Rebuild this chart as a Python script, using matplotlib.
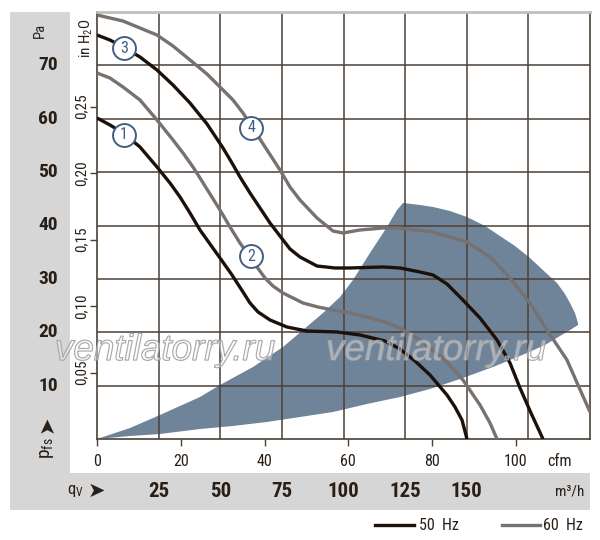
import matplotlib
matplotlib.use('Agg')
import matplotlib.pyplot as plt
from matplotlib.patches import Rectangle, Polygon
from matplotlib.lines import Line2D
from matplotlib import font_manager
import matplotlib.patheffects as pe

# ---------------- data (flow in m3/h, pressure in Pa) ----------------
cfm_ticks = [0, 20, 40, 60, 80, 100]
m3h_labels = [25, 50, 75, 100, 125, 150]
m3h_grid = [25, 50, 75, 100, 125, 150, 175]
pa_labels = [10, 20, 30, 40, 50, 60, 70]
inh2o_ticks = [0.05, 0.10, 0.15, 0.20, 0.25]
inh2o_labels = ['0,05', '0,10', '0,15', '0,20', '0,25']

# curve 1 (50 Hz)
curve1_q = [0, 5.27, 10.55, 17.44, 24.34, 29.61, 33.67, 37.73, 41.78, 45.84, 49.90, 54.77, 59.23, 62.07,
            65.32, 70.18, 77.08, 85.19, 97.36, 106.69, 116.84, 122.92, 129.01, 135.09, 141.99, 145.23, 148.07, 150.10]
curve1_p = [60.14, 58.83, 57.33, 54.71, 50.96, 47.96, 45.34, 42.34, 39.16, 36.53, 33.91, 30.73, 27.54, 25.48,
            23.80, 22.30, 20.98, 20.23, 20.05, 19.49, 18.36, 16.86, 14.61, 11.99, 8.24, 6.00, 3.56, 0]

# curve 2 (60 Hz)
curve2_q = [0, 5.27, 10.55, 17.44, 24.34, 30.83, 34.89, 38.95, 41.78, 45.84, 49.90, 53.96, 58.01, 62.07, 64.91,
            68.15, 71.40, 75.46, 79.51, 83.57, 89.65, 95.74, 102.64, 109.53, 116.84, 122.92, 131.03, 135.09,
            141.99, 148.48, 155.38, 159.43, 162.27]
curve2_p = [68.57, 67.63, 65.95, 63.51, 59.77, 56.02, 53.58, 50.96, 48.90, 45.90, 42.90, 39.72, 36.72, 34.10, 32.23,
            30.16, 28.66, 27.35, 26.42, 25.48, 24.73, 24.17, 23.61, 22.86, 21.92, 20.80, 18.55, 17.05,
            14.43, 11.05, 6.37, 3.00, 0]

# curve 3 (50 Hz)
curve3_q = [0, 5.27, 10.55, 17.44, 24.34, 30.83, 37.73, 44.62, 51.12, 54.77, 58.01, 62.07, 66.13, 70.18, 74.24,
            78.29, 82.35, 89.25, 96.55, 102.64, 116.02, 122.92, 131.03, 136.31, 141.99, 147.26, 155.38, 162.27,
            167.55, 171.60, 176.06, 180.93]
curve3_p = [75.69, 74.75, 73.44, 71.57, 69.13, 66.32, 62.95, 59.02, 54.52, 51.71, 49.09, 46.09, 43.28, 40.47, 38.03,
            35.60, 34.10, 32.41, 32.04, 32.04, 32.23, 32.04, 31.29, 30.73, 29.04, 26.60, 22.67, 18.55,
            14.24, 9.56, 4.87, 0]

# curve 4 (60 Hz)
curve4_q = [0, 10.55, 24.34, 30.83, 37.73, 44.62, 51.12, 55.17, 59.23, 68.97, 74.24, 78.29, 82.35, 89.25, 95.74,
            99.80, 106.69, 116.02, 122.92, 136.31, 150.10, 159.43, 167.55, 175.66, 182.55, 190.67, 195.13, 200]
curve4_p = [79.44, 78.31, 75.69, 73.63, 71.01, 68.38, 65.39, 63.51, 61.08, 54.15, 50.40, 47.21, 44.78, 41.41, 38.97,
            38.60, 39.16, 39.53, 39.53, 38.78, 36.91, 34.10, 30.16, 25.48, 20.42, 14.80, 10.12, 5.06]

# operating envelope (shaded area)
envelope_q = [0, 13.39, 25.56, 41.78, 49.90, 63.29, 75.46, 83.57, 91.68, 98.58, 103.85, 110.75, 117.65, 121.70, 124.14,
              131.03, 136.31, 143.20, 150.10, 157.40, 163.49, 169.57, 175.66, 181.74, 186.61, 189.86, 191.89, 193.91, 195.13,
              195.13, 191.89, 187.83, 181.74, 174.44, 160.65, 147.26, 135.09, 122.92, 109.53, 95.74, 82.35, 68.97,
              55.17, 41.78, 25.56, 13.39]
envelope_p = [0, 2.06, 4.50, 7.87, 10.12, 13.49, 17.24, 20.42, 23.61, 26.60, 29.79, 34.85, 39.72, 42.90, 44.22,
              43.84, 43.47, 42.72, 41.59, 39.91, 38.03, 36.16, 33.91, 31.29, 29.23, 27.17, 25.48, 23.61, 21.73,
              21.36, 20.42, 19.30, 17.61, 16.11, 13.49, 11.24, 9.37, 7.87, 6.56, 5.06, 4.12, 3.19,
              2.44, 1.87, 0.94, 0.56]

curve_ids = ['1', '2', '3', '4']
label_q = [10.9, 62.5, 10.9, 62.5]
label_p = [57.0, 34.2, 73.2, 58.3]

CFM_TO_M3H = 1.699
INH2O_TO_PA = 249.089

# ---------------- fonts ----------------
names = {f.name for f in font_manager.fontManager.ttflist}
NARROW = next((n for n in ['Liberation Sans Narrow', 'Roboto Condensed', 'Liberation Sans'] if n in names), 'DejaVu Sans')
FAM = [NARROW, 'DejaVu Sans']
plt.rcParams['font.family'] = FAM
plt.rcParams['mathtext.fontset'] = 'custom'
plt.rcParams['mathtext.rm'] = NARROW
plt.rcParams['mathtext.it'] = NARROW
plt.rcParams['mathtext.bf'] = NARROW + ':bold'

TXT = '#2a1f16'
GRID = '#4a4036'
BLACK = '#1c1008'
GRAY = '#777271'
FILL = '#6f8399'
CIRC = '#3f5f80'

W, H = 600, 540
fig = plt.figure(figsize=(6, 5.4), dpi=100)
fig.patch.set_facecolor('white')

def fx(px):
    return px / W

def fy(py):
    return 1 - py / H

fig.patches.append(Rectangle((fx(10), fy(510)), fx(590) - fx(10), fy(12) - fy(510),
                             transform=fig.transFigure, facecolor='#d6d6d6', edgecolor='none', zorder=-20))
fig.patches.append(Rectangle((fx(70), fy(473)), fx(590) - fx(70), fy(12) - fy(473),
                             transform=fig.transFigure, facecolor='white', edgecolor='none', zorder=-19))

ax = fig.add_axes([fx(97), fy(439), fx(590) - fx(97), fy(12) - fy(439)])
ax.set_facecolor('white')
ax.set_xlim(0, 200)
ax.set_ylim(0, 80)

# grid on minor ticks
ax.set_xticks(m3h_grid, minor=True)
ax.set_yticks(pa_labels, minor=True)
ax.grid(which='minor', color=GRID, lw=1.1)
ax.tick_params(which='minor', length=0)

# major ticks: cfm and inH2O
ax.set_xticks([c * CFM_TO_M3H for c in cfm_ticks])
ax.set_xticklabels([str(c) for c in cfm_ticks])
ax.set_yticks([v * INH2O_TO_PA for v in inh2o_ticks])
ax.set_yticklabels(inh2o_labels, rotation=90, va='center')
ax.tick_params(axis='x', direction='out', length=5, width=1, color=GRID, pad=6, labelsize=11.5, labelcolor=TXT)
ax.tick_params(axis='y', direction='out', length=5, width=1, color=GRID, pad=1, labelsize=11, labelcolor=TXT)

for s in ['left', 'bottom', 'right']:
    ax.spines[s].set_color(GRID)
    ax.spines[s].set_linewidth(1.2)
ax.spines['top'].set_color('#c3bfb8')
ax.spines['top'].set_linewidth(2)

# envelope
ax.add_patch(Polygon(list(zip(envelope_q, envelope_p)), closed=True, facecolor=FILL, edgecolor='none', zorder=1))

# curves
kw = dict(lw=2.4, zorder=3, solid_joinstyle='round', solid_capstyle='butt')
ax.plot(curve1_q, curve1_p, color=BLACK, **kw)
ax.plot(curve3_q, curve3_p, color=BLACK, **kw)
ax.plot(curve2_q, curve2_p, color=GRAY, **kw)
ax.plot(curve4_q, curve4_p, color=GRAY, **kw)

# curve labels
for cid, q, p in zip(curve_ids, label_q, label_p):
    ax.plot([q], [p], marker='o', markersize=16.5, mfc='white', mec=CIRC, mew=1.4, zorder=4, clip_on=False)
    ax.text(q, p, cid, color=CIRC, fontsize=11.5, ha='center', va='center', zorder=5)

# Pa and m3/h labels
ytr = ax.get_yaxis_transform()
xtr = ax.get_xaxis_transform()
for p in pa_labels:
    ax.text(-0.099, p, str(p), transform=ytr, ha='center', va='center', fontsize=14,
            fontweight='bold', color=TXT)
for q in m3h_labels:
    ax.text(q, -0.122, str(q), transform=xtr, ha='center', va='center', fontsize=15,
            fontweight='bold', color=TXT)

def axc(px, py):
    return ((px - 97) / 493, (439 - py) / 427)

ax.text(*axc(40, 30), 'Pa', transform=ax.transAxes, rotation=90, ha='center', va='center', fontsize=10.5, color=TXT)
ax.text(*axc(86, 38), r'in H$_2$O', transform=ax.transAxes, rotation=90, ha='center', va='center', fontsize=11, color=TXT)
ax.text(*axc(560, 461), 'cfm', transform=ax.transAxes, ha='center', va='center', fontsize=11.5, color=TXT)
ax.text(*axc(570, 491), 'm³/h', transform=ax.transAxes, ha='center', va='center', fontsize=11, color=TXT)
ax.text(*axc(75, 491), r'q$_\mathregular{V}$', transform=ax.transAxes, ha='center', va='center', fontsize=12, color=TXT)
ax.text(*axc(96, 491), '➤', transform=ax.transAxes, ha='center', va='center', fontsize=15, color=TXT,
        family=['DejaVu Sans'])
ax.text(*axc(47, 448), r'p$_\mathregular{fs}$', transform=ax.transAxes, rotation=90, ha='center', va='center', fontsize=14, color=TXT)
ax.text(*axc(47, 424), '➤', transform=ax.transAxes, rotation=90, ha='center', va='center', fontsize=15, color=TXT,
        family=['DejaVu Sans'])

# watermark
for x0 in [55, 326]:
    ax.text(*axc(x0, 360), 'ventilatorry.ru', transform=ax.transAxes, ha='left', va='baseline',
            fontsize=26.5, style='italic', family=['Liberation Sans', 'DejaVu Sans'],
            color=(1, 1, 1, 0.22), zorder=6, clip_on=False,
            path_effects=[pe.withStroke(linewidth=0.9, foreground=(0.6, 0.6, 0.6, 0.9))])

# legend
fig.add_artist(Line2D([fx(375), fx(414)], [fy(525), fy(525)], transform=fig.transFigure, color=BLACK, lw=2.4))
fig.text(fx(419), fy(525), '50  Hz', ha='left', va='center', fontsize=11.5, color=TXT)
fig.add_artist(Line2D([fx(502), fx(540)], [fy(525), fy(525)], transform=fig.transFigure, color=GRAY, lw=2.4))
fig.text(fx(543), fy(525), '60  Hz', ha='left', va='center', fontsize=11.5, color=TXT)

fig.savefig('out.png', dpi=100)
